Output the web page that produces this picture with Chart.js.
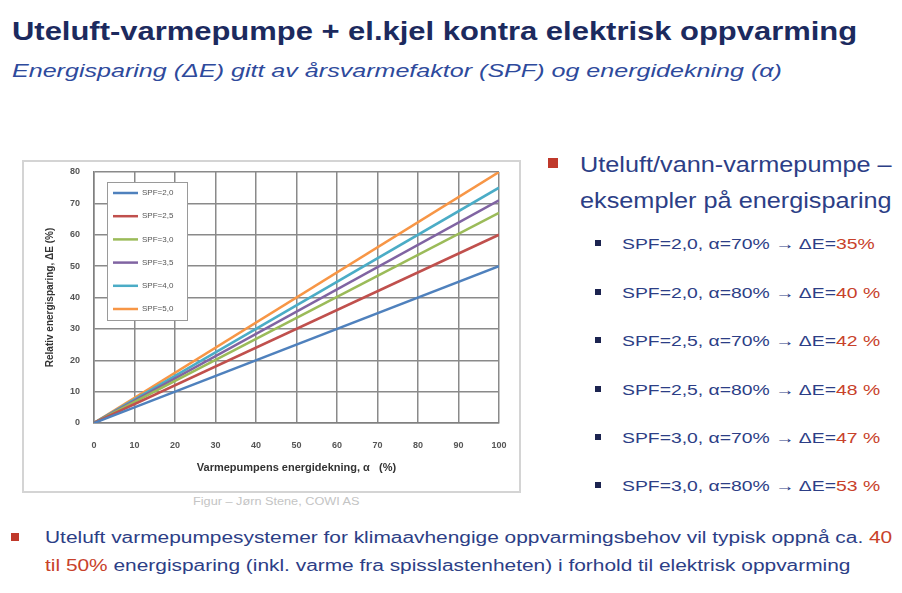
<!DOCTYPE html>
<html>
<head>
<meta charset="utf-8">
<script src="https://cdn.jsdelivr.net/npm/chart.js@4.4.1/dist/chart.umd.min.js"></script>
<style>
  html, body { margin: 0; padding: 0; background: #fff; }
  body { width: 902px; height: 593px; position: relative; overflow: hidden; font-family: "Liberation Sans", Arial, sans-serif; }
  .abs { position: absolute; white-space: nowrap; transform-origin: left center; }
  #title { left: 12px; top: 16px; font-size: 26px; font-weight: bold; color: #1c2a5e; transform: scaleX(1.19); }
  #subtitle { left: 12px; top: 60px; font-size: 19px; font-style: italic; color: #2e4a9c; transform: scaleX(1.32); }
  #chartBox { left: 22px; top: 160px; width: 495px; height: 329px; border: 2px solid #d4d4d4; background: #fff; }
  #chartBox canvas { display: block; }
  #caption { left: 193px; top: 496px; font-size: 10px; color: #c4c4c4; transform: scaleX(1.27); }
  .red { color: #c8412a; }
  .sq { position: absolute; }
  .bigsq { width: 10px; height: 10px; background: #c0392b; }
  .smallsq { width: 6px; height: 6px; background: #1c2450; }
  .head { font-size: 22px; color: #2c3e86; transform: scaleX(1.148); }
  .item { font-size: 15px; color: #2c3e86; transform: scaleX(1.29); }
  .foot { font-size: 16px; color: #2c3e86; transform: scaleX(1.305); }
</style>
</head>
<body>
<div id="title" class="abs">Uteluft-varmepumpe + el.kjel kontra elektrisk oppvarming</div>
<div id="subtitle" class="abs">Energisparing (ΔE) gitt av årsvarmefaktor (SPF) og energidekning (α)</div>

<div id="chartBox" class="abs"><canvas id="chart" width="495" height="329"></canvas></div>
<div id="caption" class="abs">Figur – Jørn Stene, COWI AS</div>

<div class="sq bigsq" style="left:548px; top:158px;"></div>
<div class="abs head" style="left:580px; top:152px;">Uteluft/vann-varmepumpe –</div>
<div class="abs head" style="left:580px; top:188px;">eksempler på energisparing</div>

<div class="sq smallsq" style="left:595px; top:240px;"></div>
<div class="abs item" style="left:622px; top:235px;">SPF=2,0, α=70% → ΔE=<span class="red">35%</span></div>
<div class="sq smallsq" style="left:595px; top:289px;"></div>
<div class="abs item" style="left:622px; top:284px;">SPF=2,0, α=80% → ΔE=<span class="red">40 %</span></div>
<div class="sq smallsq" style="left:595px; top:337px;"></div>
<div class="abs item" style="left:622px; top:332px;">SPF=2,5, α=70% → ΔE=<span class="red">42 %</span></div>
<div class="sq smallsq" style="left:595px; top:386px;"></div>
<div class="abs item" style="left:622px; top:381px;">SPF=2,5, α=80% → ΔE=<span class="red">48 %</span></div>
<div class="sq smallsq" style="left:595px; top:434px;"></div>
<div class="abs item" style="left:622px; top:429px;">SPF=3,0, α=70% → ΔE=<span class="red">47 %</span></div>
<div class="sq smallsq" style="left:595px; top:482px;"></div>
<div class="abs item" style="left:622px; top:477px;">SPF=3,0, α=80% → ΔE=<span class="red">53 %</span></div>

<div class="sq bigsq" style="left:11px; top:533px; width:8px; height:8px;"></div>
<div class="abs foot" style="left:45px; top:529px;">Uteluft varmepumpesystemer for klimaavhengige oppvarmingsbehov vil typisk oppnå ca. <span class="red">40</span></div>
<div class="abs foot" style="left:45px; top:557px;"><span class="red">til 50%</span> energisparing (inkl. varme fra spisslastenheten) i forhold til elektrisk oppvarming</div>

<script>
  // energidekning alpha (%) at the two ends of each line
  const alphaPct = [0, 100];
  const spfLabels = ['SPF=2,0', 'SPF=2,5', 'SPF=3,0', 'SPF=3,5', 'SPF=4,0', 'SPF=5,0'];
  const spf20 = [0, 50];
  const spf25 = [0, 60];
  const spf30 = [0, 67];
  const spf35 = [0, 71];
  const spf40 = [0, 75];
  const spf50 = [0, 80];
  const xTicks = [0, 10, 20, 30, 40, 50, 60, 70, 80, 90, 100];
  const yTicks = [0, 10, 20, 30, 40, 50, 60, 70, 80];

  const seriesValues = [spf20, spf25, spf30, spf35, spf40, spf50];
  const colors = ['#4F81BD', '#C0504D', '#9BBB59', '#8064A2', '#4BACC6', '#F79646'];

  const datasets = seriesValues.map((vals, i) => ({
    label: spfLabels[i],
    data: vals.map((v, j) => ({ x: alphaPct[j], y: v })),
    borderColor: colors[i],
    backgroundColor: colors[i],
    borderWidth: 2.5,
    pointRadius: 0,
    fill: false,
    tension: 0,
  }));

  // legend box drawn inside the plot area, like the Excel original
  const insideLegend = {
    id: 'insideLegend',
    afterDraw(chart) {
      const { ctx, chartArea } = chart;
      const x0 = chartArea.left + 13;
      const y0 = chartArea.top + 10;
      const w = 80, h = 138, step = 23.2;
      ctx.save();
      ctx.fillStyle = '#fff';
      ctx.fillRect(x0, y0, w, h);
      ctx.strokeStyle = '#9a9a9a';
      ctx.lineWidth = 1;
      ctx.strokeRect(x0 + 0.5, y0 + 0.5, w, h);
      ctx.font = '8px "Liberation Sans", Arial, sans-serif';
      ctx.textBaseline = 'middle';
      chart.data.datasets.forEach((ds, i) => {
        const y = y0 + 11 + i * step;
        ctx.strokeStyle = ds.borderColor;
        ctx.lineWidth = 2.5;
        ctx.beginPath();
        ctx.moveTo(x0 + 6, y);
        ctx.lineTo(x0 + 31, y);
        ctx.stroke();
        ctx.fillStyle = '#555';
        ctx.fillText(ds.label, x0 + 35, y);
      });
      ctx.restore();
    }
  };

  const tickFont = { family: '"Liberation Sans", Arial, sans-serif', size: 9, weight: 'bold' };

  new Chart(document.getElementById('chart'), {
    type: 'line',
    data: { datasets },
    plugins: [insideLegend],
    options: {
      responsive: false,
      animation: false,
      layout: { padding: { top: 10, right: 20, left: 0, bottom: 0 } },
      plugins: { legend: { display: false }, tooltip: { enabled: false } },
      scales: {
        x: {
          type: 'linear',
          min: 0,
          max: 100,
          afterBuildTicks: (s) => { s.ticks = xTicks.map(v => ({ value: v })); },
          afterFit: (s) => { s.height = 68; s.paddingLeft = 0; s.paddingRight = 0; },
          grid: { color: '#8a8a8a', lineWidth: 1.5, drawTicks: false },
          border: { color: '#808080', width: 1.5 },
          ticks: { color: '#555', font: tickFont, padding: 17, maxRotation: 0 },
          title: {
            display: true,
            text: 'Varmepumpens energidekning, α   (%)',
            color: '#333',
            font: { family: '"Liberation Sans", Arial, sans-serif', size: 11, weight: 'bold' },
            padding: { top: 0, bottom: 16 },
          },
        },
        y: {
          min: 0,
          max: 80,
          afterBuildTicks: (s) => { s.ticks = yTicks.map(v => ({ value: v })); },
          afterFit: (s) => { s.width = 70; s.paddingTop = 0; s.paddingBottom = 0; },
          grid: { color: '#8a8a8a', lineWidth: 1.5, drawTicks: false },
          border: { color: '#808080', width: 1.5 },
          ticks: { color: '#555', font: tickFont, padding: 14 },
          title: {
            display: true,
            text: 'Relativ energisparing, ΔE (%)',
            color: '#333',
            font: { family: '"Liberation Sans", Arial, sans-serif', size: 10, weight: 'bold' },
            padding: { top: 20, bottom: 0 },
          },
        },
      },
    },
  });
</script>
</body>
</html>
